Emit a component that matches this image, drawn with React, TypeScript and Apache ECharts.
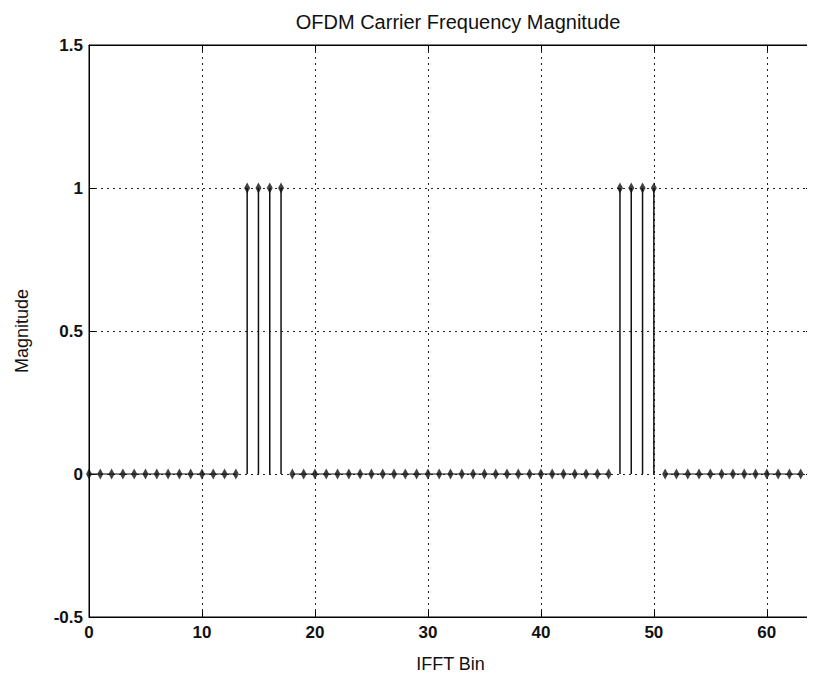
import React, { useEffect, useRef } from "react";
import * as echarts from "echarts";

const titleText = "OFDM Carrier Frequency Magnitude";
const xName = "IFFT Bin";
const yName = "Magnitude";

// magnitude of each IFFT bin 0..63
const magnitude = [
  0, 0, 0, 0, 0, 0, 0, 0, 0, 0, 0, 0, 0, 0,
  1, 1, 1, 1,
  0, 0, 0, 0, 0, 0, 0, 0, 0, 0, 0, 0, 0, 0, 0, 0, 0, 0, 0, 0, 0, 0, 0, 0, 0, 0, 0, 0, 0,
  1, 1, 1, 1,
  0, 0, 0, 0, 0, 0, 0, 0, 0, 0, 0, 0, 0,
];

const xMin = 0;
const xMax = 64;
const xInterval = 10;
const yMin = -0.5;
const yMax = 1.5;
const yInterval = 0.5;

const FONT = "'Liberation Sans', Arial, sans-serif";

export default function App() {
  const ref = useRef<HTMLDivElement>(null);

  useEffect(() => {
    if (!ref.current) return;
    const chart = echarts.init(ref.current, null, { renderer: "svg" });

    const points = magnitude.map((v, i) => [i, v]);
    const baseline = magnitude.map((v, i) => [i, v === 0 ? 0 : null]);

    const gridLine = { show: true, lineStyle: { color: "#222", type: [2, 4] as any, width: 1 } };
    const tickIn = { show: true, inside: true, length: 6, lineStyle: { color: "#000" } };
    const axisLine = { show: true, onZero: false, lineStyle: { color: "#000", width: 1 } };
    const labelStyle = { color: "#111", fontFamily: FONT, fontSize: 17, fontWeight: "bold" as const };

    chart.setOption({
      animation: false,
      backgroundColor: "#fff",
      title: {
        text: titleText,
        left: 453,
        top: 7,
        textAlign: "center",
        textStyle: { fontFamily: FONT, fontSize: 20, fontWeight: "normal", color: "#111" },
      },
      grid: {
        left: 89,
        right: 3,
        top: 45,
        bottom: 63,
        show: true,
        borderColor: "#000",
        borderWidth: 1,
        backgroundColor: "transparent",
      },
      xAxis: [
        {
          type: "value",
          min: xMin,
          max: xMax,
          interval: xInterval,
          position: "bottom",
          axisLine,
          axisTick: tickIn,
          splitLine: gridLine,
          axisLabel: { ...labelStyle, margin: 7, showMaxLabel: false },
          name: xName,
          nameLocation: "middle",
          nameGap: 38,
          nameTextStyle: { fontFamily: FONT, fontSize: 18, color: "#111" },
        },
        {
          type: "value",
          min: xMin,
          max: xMax,
          interval: xInterval,
          position: "top",
          axisLine,
          axisTick: tickIn,
          splitLine: { show: false },
          axisLabel: { show: false },
        },
      ],
      yAxis: [
        {
          type: "value",
          min: yMin,
          max: yMax,
          interval: yInterval,
          position: "left",
          axisLine,
          axisTick: tickIn,
          splitLine: gridLine,
          axisLabel: { ...labelStyle, margin: 6 },
          name: yName,
          nameLocation: "middle",
          nameGap: 58,
          nameRotate: 90,
          nameTextStyle: { fontFamily: FONT, fontSize: 18, color: "#111" },
        },
        {
          type: "value",
          min: yMin,
          max: yMax,
          interval: yInterval,
          position: "right",
          axisLine,
          axisTick: tickIn,
          splitLine: { show: false },
          axisLabel: { show: false },
        },
      ],
      series: [
        {
          type: "line",
          data: baseline,
          xAxisIndex: 0,
          yAxisIndex: 0,
          showSymbol: false,
          connectNulls: false,
          lineStyle: { color: "#111", width: 1.2 },
          silent: true,
          z: 2,
        },
        {
          type: "bar",
          data: points,
          xAxisIndex: 0,
          yAxisIndex: 0,
          barWidth: 1.5,
          itemStyle: { color: "#111" },
          silent: true,
          z: 3,
        },
        {
          type: "scatter",
          data: points,
          xAxisIndex: 0,
          yAxisIndex: 0,
          symbol: "diamond",
          symbolSize: [6, 11],
          itemStyle: { color: "#111" },
          silent: true,
          z: 4,
        },
      ],
    });

    return () => chart.dispose();
  }, []);

  return <div ref={ref} style={{ width: 815, height: 680, margin: -8 }} />;
}
